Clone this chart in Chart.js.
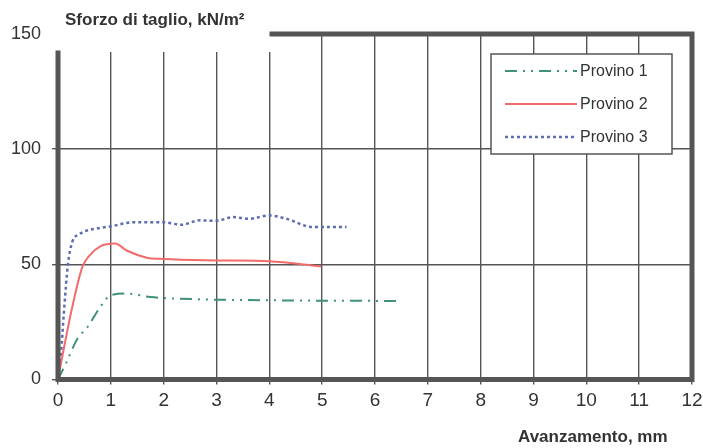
<!DOCTYPE html>
<html>
<head>
<meta charset="utf-8">
<script src="https://cdn.jsdelivr.net/npm/chart.js@4.4.0/dist/chart.umd.min.js"></script>
<style>
  html, body { margin: 0; padding: 0; background: #fff; }
  #wrap { width: 703px; height: 448px; position: relative; }
</style>
</head>
<body>
<div id="wrap"><canvas id="chart" width="703" height="448"></canvas></div>
<script>
// Provino 1
const p1X = [0, 0.15, 0.37, 0.56, 0.8, 1.0, 1.3, 1.75, 2.7, 3.95, 5.2, 6.4];
const p1Y = [0, 7, 17.8, 22.8, 31.5, 36.6, 37.3, 35.8, 34.8, 34.4, 34.2, 34.1];
// Provino 2
const p2X = [0, 0.08, 0.27, 0.46, 0.6, 0.8, 1.08, 1.3, 1.68, 2.0, 3.0, 4.0, 4.98];
const p2Y = [0, 9.8, 31.5, 48.8, 53.9, 57.8, 59, 56, 52.9, 52.3, 51.7, 51.3, 49.1];
// Provino 3
const p3X = [0, 0.06, 0.11, 0.19, 0.27, 0.4, 0.55, 0.8, 1.0, 1.43, 1.98, 2.34, 2.68, 3.0, 3.31, 3.62, 4.0, 4.32, 4.82, 5.46];
const p3Y = [0, 12, 28.6, 50.3, 59.7, 63, 64.7, 65.8, 66.5, 68.3, 68.3, 67.2, 69.1, 68.9, 70.5, 69.8, 71.2, 69.8, 66.2, 66.2];

const xTicks = [0, 1, 2, 3, 4, 5, 6, 7, 8, 9, 10, 11, 12];
const yTicks = [0, 50, 100, 150];
const seriesNames = ['Provino 1', 'Provino 2', 'Provino 3'];

const toPoints = (xs, ys) => xs.map((x, i) => ({ x: x, y: ys[i] }));

const AXIS = '#555555';
const TEXT = '#333333';
const FONT = '"Liberation Sans", Arial, sans-serif';

// Frame, titles and legend drawn on top of the chart
const framePlugin = {
    id: 'frame',
    beforeDatasetsDraw(chart) {
        const { ctx, chartArea: a } = chart;
        // blank the upper-left corner where the title sits
        ctx.save();
        ctx.fillStyle = '#fff';
        ctx.fillRect(a.left - 8, a.top - 3, 272 - a.left + 8, 21);
        ctx.restore();
    },
    afterDraw(chart) {
        const { ctx, chartArea: a } = chart;
        ctx.save();
        ctx.strokeStyle = AXIS;
        ctx.lineWidth = 5;
        ctx.lineCap = 'square';
        ctx.beginPath();
        ctx.moveTo(a.left, 53);
        ctx.lineTo(a.left, a.bottom);
        ctx.lineTo(a.right, a.bottom);
        ctx.lineTo(a.right, a.top);
        ctx.lineTo(272, a.top);
        ctx.stroke();

        // axis titles
        ctx.fillStyle = TEXT;
        ctx.font = 'bold 17px ' + FONT;
        ctx.textBaseline = 'middle';
        ctx.textAlign = 'left';
        ctx.fillText('Sforzo di taglio, kN/m\u00B2', 65, 20);
        ctx.fillText('Avanzamento, mm', 518, 437);

        // legend
        const bx = 491, by = 54, bw = 181, bh = 100;
        ctx.fillStyle = '#fff';
        ctx.fillRect(bx, by, bw, bh);
        ctx.lineWidth = 1.5;
        ctx.lineCap = 'butt';
        ctx.strokeStyle = AXIS;
        ctx.strokeRect(bx, by, bw, bh);
        const rows = [71, 104, 137];
        chart.data.datasets.forEach((ds, i) => {
            ctx.strokeStyle = ds.borderColor;
            ctx.lineWidth = ds.borderWidth;
            ctx.setLineDash(ds.borderDash || []);
            ctx.beginPath();
            ctx.moveTo(505, rows[i]);
            ctx.lineTo(577, rows[i]);
            ctx.stroke();
            ctx.setLineDash([]);
            ctx.fillStyle = TEXT;
            ctx.font = '16px ' + FONT;
            ctx.fillText(ds.label, 580, rows[i] + 1);
        });
        ctx.restore();
    }
};

new Chart(document.getElementById('chart'), {
    type: 'line',
    data: {
        datasets: [
            {
                label: seriesNames[0],
                data: toPoints(p1X, p1Y),
                borderColor: '#3d9277',
                borderWidth: 2,
                borderDash: [12, 6, 2, 6, 2, 6],
                pointRadius: 0,
                cubicInterpolationMode: 'monotone'
            },
            {
                label: seriesNames[1],
                data: toPoints(p2X, p2Y),
                borderColor: '#f26b6b',
                borderWidth: 2,
                pointRadius: 0,
                cubicInterpolationMode: 'monotone'
            },
            {
                label: seriesNames[2],
                data: toPoints(p3X, p3Y),
                borderColor: '#5d6db0',
                borderWidth: 2.5,
                borderDash: [3, 3],
                pointRadius: 0,
                cubicInterpolationMode: 'monotone'
            }
        ]
    },
    options: {
        responsive: false,
        animation: false,
        layout: { padding: { top: 34, right: 11, left: 0, bottom: 0 } },
        plugins: {
            legend: { display: false },
            tooltip: { enabled: false }
        },
        scales: {
            x: {
                type: 'linear',
                min: 0,
                max: 12,
                afterFit: (s) => { s.height = 68.5; s.paddingRight = 0; },
                afterBuildTicks: (s) => { s.ticks = xTicks.map(v => ({ value: v })); },
                border: { display: false },
                grid: { color: AXIS, lineWidth: 1.4, tickLength: 5, tickColor: AXIS },
                ticks: {
                    color: TEXT,
                    padding: 5,
                    font: { family: FONT, size: 19 }
                }
            },
            y: {
                min: 0,
                max: 150,
                afterFit: (s) => { s.width = 58; },
                afterBuildTicks: (s) => { s.ticks = yTicks.map(v => ({ value: v })); },
                border: { display: false },
                grid: { color: AXIS, lineWidth: 1.4, tickLength: 6, tickColor: AXIS },
                ticks: {
                    color: TEXT,
                    padding: 11,
                    font: { family: FONT, size: 18 }
                }
            }
        }
    },
    plugins: [framePlugin]
});
</script>
</body>
</html>
